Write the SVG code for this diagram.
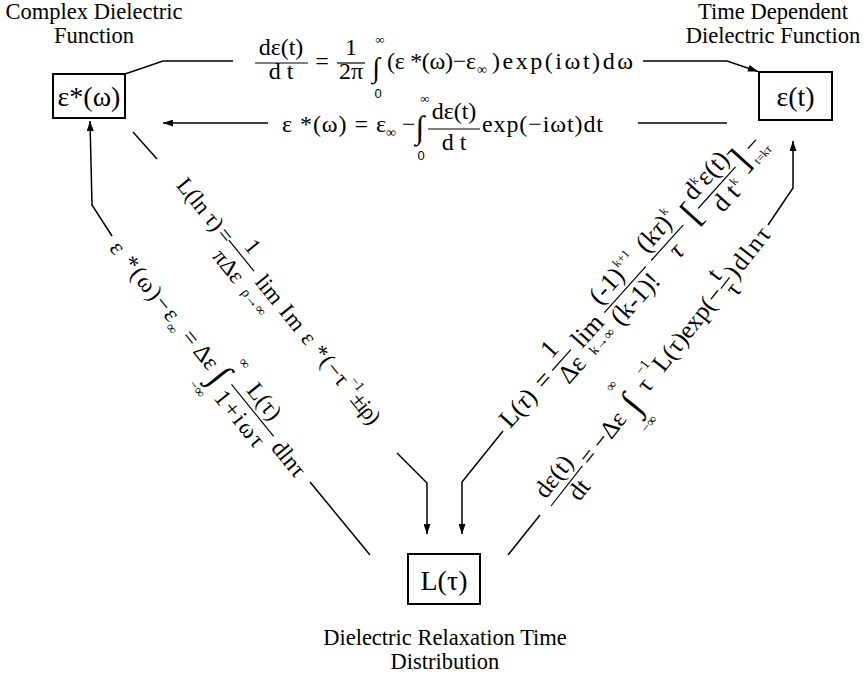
<svg xmlns="http://www.w3.org/2000/svg" width="868" height="677" viewBox="0 0 868 677">
<defs>
<style>
.t{font-family:"Liberation Serif","Times New Roman",serif;fill:#000}
.s{font-family:"Liberation Sans",Arial,sans-serif;fill:#000}
.m{text-anchor:middle}
.box{fill:#fff;stroke:#000;stroke-width:2}
.c{stroke:#000;stroke-width:1.5;fill:none}
.b{stroke:#000;stroke-width:1.2;fill:none}
</style>
<marker id="arr" viewBox="0 0 10 7" refX="10" refY="3.5" markerWidth="11" markerHeight="7" markerUnits="userSpaceOnUse" orient="auto"><path d="M0,0 L10,3.5 L0,7 z" fill="#000"/></marker>
</defs>
<rect width="868" height="677" fill="#fff"/>

<g id="node-complex">
<text class="t m" x="94" y="19" font-size="22.5">Complex Dielectric</text>
<text class="t m" x="94" y="43" font-size="22.5">Function</text>
<rect class="box" x="53" y="74" width="72" height="44"/>
<text class="t m" x="89" y="106" font-size="28">ε*(ω)</text>
</g>

<g id="node-time">
<text class="t m" x="773" y="19" font-size="22.5">Time Dependent</text>
<text class="t m" x="773" y="43" font-size="22.5">Dielectric Function</text>
<rect class="box" x="759" y="72" width="73" height="48"/>
<text class="t m" x="795.5" y="106" font-size="28">ε(t)</text>
</g>

<g id="node-dist">
<rect class="box" x="408" y="554" width="72" height="50"/>
<text class="t m" x="444" y="590" font-size="28">L(τ)</text>
<text class="t m" x="445" y="645" font-size="22.5">Dielectric Relaxation Time</text>
<text class="t m" x="445" y="669" font-size="22.5">Distribution</text>
</g>

<g id="connectors">
<path class="c" d="M125,74 L163,61 L233,61"/>
<path class="c" d="M643,61 L727,61 L758,71.5" marker-end="url(#arr)"/>
<path class="c" d="M268,123 L163,123" marker-end="url(#arr)"/>
<path class="c" d="M638,123 L727,123"/>
<path class="c" d="M133,132 L157,159"/>
<path class="c" d="M397,453 L427,483 L427,534" marker-end="url(#arr)"/>
<path class="c" d="M112,236 L92,205 L90,121" marker-end="url(#arr)"/>
<path class="c" d="M310,482 L370,555"/>
<path class="c" d="M503,431 L462,482 L462,534" marker-end="url(#arr)"/>
<path class="c" d="M508,555 L540,515"/>
<path class="c" d="M768,225 L793,188 L793,141" marker-end="url(#arr)"/>
</g>

<g id="eq-top1" font-size="24">
<text class="t m" x="281" y="55">dε(t)</text>
<line class="b" x1="255" y1="63" x2="308" y2="63"/>
<text class="t m" x="281" y="79">d t</text>
<text class="t m" x="322" y="69">=</text>
<text class="t m" x="351" y="55">1</text>
<line class="b" x1="337" y1="63" x2="365" y2="63"/>
<text class="t m" x="351" y="79">2π</text>
<text class="t m" x="376" y="77" font-size="28">∫</text>
<text class="t m" x="380" y="44" font-size="13">∞</text>
<text class="s m" x="378" y="98" font-size="13">0</text>
<text class="t" x="387" y="69" textLength="89" lengthAdjust="spacing">(ε *(ω)−ε</text>
<text class="t" x="477" y="74" font-size="14">∞</text>
<text class="t" x="492" y="69" textLength="141" lengthAdjust="spacing">)exp(iωt)dω</text>
</g>

<g id="eq-top2" font-size="24">
<text class="t" x="282" y="132" textLength="104" lengthAdjust="spacing">ε *(ω) = ε</text>
<text class="t" x="386" y="137" font-size="14">∞</text>
<text class="t" x="402" y="132">−</text>
<text class="t m" x="420" y="138" font-size="32">∫</text>
<text class="t m" x="425" y="103" font-size="13">∞</text>
<text class="s m" x="421" y="160" font-size="13">0</text>
<text class="t m" x="454" y="119">dε(t)</text>
<line class="b" x1="428" y1="129" x2="480" y2="129"/>
<text class="t m" x="454" y="150">d t</text>
<text class="t" x="482" y="132" textLength="121" lengthAdjust="spacing">exp(−iωt)dt</text>
</g>

<g id="eq-left1" transform="translate(181,181) rotate(51)" font-size="23">
<text class="t" x="0" y="7" textLength="61" lengthAdjust="spacing">L(ln τ)</text>
<text class="t m" x="70" y="7">=</text>
<line class="b" x1="76" y1="0" x2="116" y2="0"/>
<text class="t m" x="96" y="-7">1</text>
<text class="t m" x="96" y="24">πΔε</text>
<text class="t m" x="140" y="7">lim</text>
<text class="t m" x="140" y="24" font-size="14">ρ→∞</text>
<text class="t" x="163" y="7" textLength="97" lengthAdjust="spacing">Im ε *(−τ</text>
<text class="t" x="261" y="-5" font-size="14">−1</text>
<text class="t" x="276" y="7" textLength="34" lengthAdjust="spacing">±iρ)</text>
</g>

<g id="eq-left2" transform="translate(114,244) rotate(51)" font-size="24">
<text class="t" x="0" y="7" textLength="96" lengthAdjust="spacing">ε *(ω)−ε</text>
<text class="t" x="97" y="13" font-size="14">∞</text>
<text class="t m" x="121" y="7">=</text>
<text class="t" x="133" y="7">Δε</text>
<text class="t m" x="169" y="12" font-size="36">∫</text>
<text class="t m" x="175" y="-22" font-size="14">∞</text>
<text class="t m" x="165" y="31" font-size="14">−∞</text>
<line class="b" x1="183" y1="-3" x2="250" y2="-3"/>
<text class="t m" x="217" y="-10">L(τ)</text>
<text class="t m" x="215" y="20" textLength="66" lengthAdjust="spacing">1+iωτ</text>
<text class="t" x="257" y="7" textLength="40" lengthAdjust="spacing">dlnτ</text>
</g>

<g id="eq-right1" transform="translate(504,424) rotate(-48)" font-size="26">
<text class="t" x="0" y="8">L(<tspan font-style="italic">τ</tspan>)</text>
<text class="t m" x="59" y="8">=</text>
<line class="b" x1="72" y1="0" x2="100" y2="0"/>
<text class="t m" x="86" y="-8">1</text>
<text class="t m" x="86" y="22">Δε</text>
<text class="t m" x="125" y="8">lim</text>
<text class="t m" x="127" y="22" font-size="14">k→∞</text>
<line class="b" x1="150" y1="0" x2="212" y2="0"/>
<text class="t" x="152" y="-8">(-1)</text>
<text class="t" x="192" y="-20" font-size="12">k+1</text>
<text class="t m" x="181" y="22">(k-1)!</text>
<line class="b" x1="220" y1="0" x2="268" y2="0"/>
<text class="t" x="222" y="-8">(k<tspan font-style="italic">τ</tspan>)</text>
<text class="t" x="262" y="-20" font-size="12">k</text>
<text class="t m" x="244" y="20" font-style="italic">τ</text>
<text class="t" x="276" y="10" font-size="36">[</text>
<line class="b" x1="290" y1="0" x2="346" y2="0"/>
<text class="t" x="292" y="-8">d</text>
<text class="t" x="305" y="-18" font-size="12">k</text>
<text class="t" x="312" y="-8">ε(t)</text>
<text class="t" x="303" y="22">d t</text>
<text class="t" x="331" y="12" font-size="12">k</text>
<text class="t" x="348" y="10" font-size="36">]</text>
<line class="b" x1="368" y1="-3" x2="380" y2="-3"/>
<text class="t" x="363" y="16" font-size="12">t=k<tspan font-style="italic">τ</tspan></text>
</g>

<g id="eq-right2" transform="translate(551,506) rotate(-52)" font-size="25">
<text class="t m" x="25" y="-8">dε(t)</text>
<line class="b" x1="0" y1="0" x2="51" y2="0"/>
<text class="t m" x="30" y="20">dt</text>
<text class="t m" x="62" y="7">=</text>
<text class="t m" x="95" y="7">−Δε</text>
<text class="t m" x="130" y="12" font-size="36">∫</text>
<text class="t m" x="132" y="-22" font-size="14">∞</text>
<text class="t m" x="125" y="31" font-size="14">−∞</text>
<text class="t" x="148" y="7">τ</text>
<text class="t" x="158" y="-9" font-size="14">−1</text>
<text class="t" x="174" y="7" textLength="100" lengthAdjust="spacing">L(τ)exp(−</text>
<line class="b" x1="276" y1="0" x2="290" y2="0"/>
<text class="t m" x="283" y="-6">t</text>
<text class="t m" x="283" y="18">τ</text>
<text class="t" x="292" y="7" textLength="58" lengthAdjust="spacing">)dlnτ</text>
</g>
</svg>
